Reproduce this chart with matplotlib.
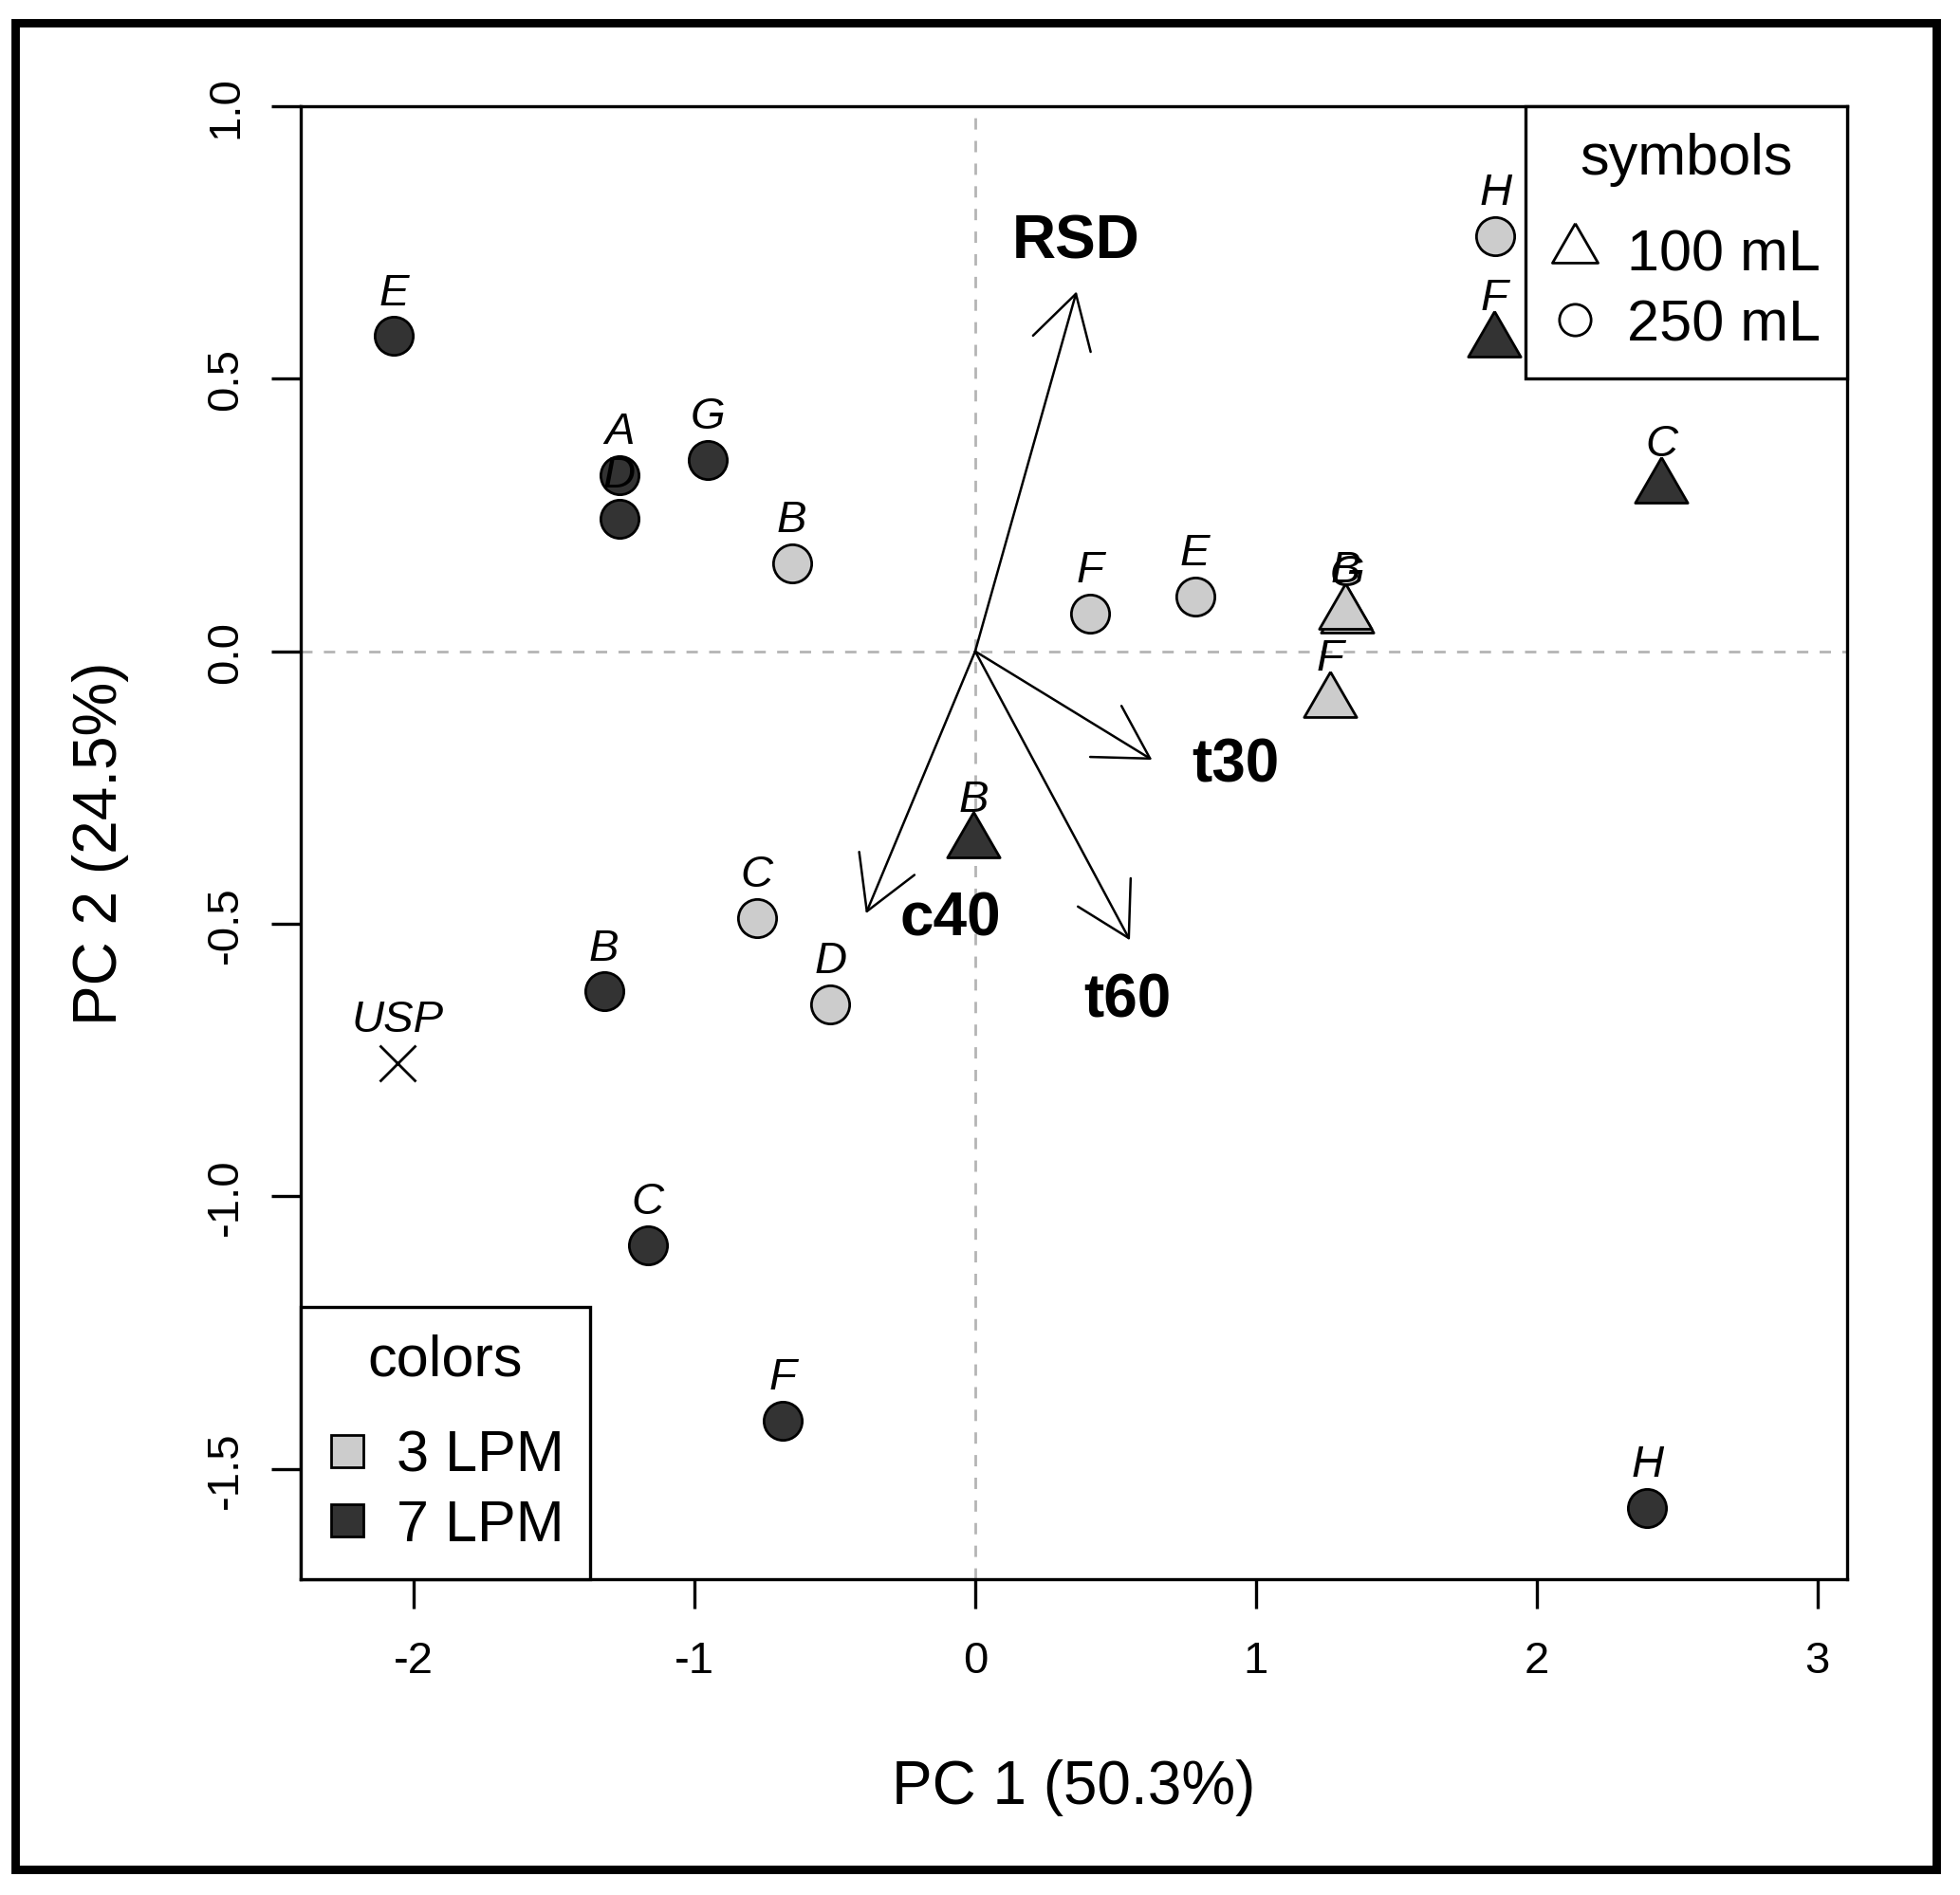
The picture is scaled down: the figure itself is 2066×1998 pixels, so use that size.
import matplotlib
matplotlib.use('Agg')
import matplotlib.pyplot as plt
from matplotlib.lines import Line2D
from matplotlib.patches import Rectangle

plt.rcParams['font.family'] = ['Liberation Sans', 'DejaVu Sans']

# ---------------- data ----------------
sample_labels = ['E', 'D', 'A', 'G', 'B', 'C', 'F', 'H',
                 'B', 'F', 'E', 'C', 'D', 'H',
                 'F', 'C', 'B',
                 'G', 'B', 'F']
pc1 = [-2.071, -1.268, -1.268, -0.952, -1.322, -1.166, -0.684, 2.393,
       -0.653, 0.408, 0.783, -0.778, -0.515, 1.853,
       1.849, 2.443, -0.006,
       1.324, 1.318, 1.265]
pc2 = [0.578, 0.243, 0.323, 0.351, -0.624, -1.089, -1.411, -1.571,
       0.161, 0.069, 0.101, -0.489, -0.647, 0.761,
       0.569, 0.300, -0.351,
       0.062, 0.069, -0.092]
flow = ['7 LPM'] * 8 + ['3 LPM'] * 6 + ['7 LPM'] * 3 + ['3 LPM'] * 3
volume = ['250 mL'] * 14 + ['100 mL'] * 6

usp_label = 'USP'
usp_pc1 = -2.058
usp_pc2 = -0.755

var_names = ['RSD', 't30', 't60', 'c40']
var_pc1 = [0.361, 0.630, 0.551, -0.389]
var_pc2 = [0.660, -0.199, -0.530, -0.481]
var_label_x = [0.359, 0.926, 0.542, -0.087]
var_label_y = [0.752, -0.209, -0.640, -0.491]

x_ticks = [-2, -1, 0, 1, 2, 3]
x_ticklabels = ['-2', '-1', '0', '1', '2', '3']
y_ticks = [-1.5, -1.0, -0.5, 0.0, 0.5, 1.0]
y_ticklabels = ['-1.5', '-1.0', '-0.5', '0.0', '0.5', '1.0']

x_title = 'PC 1 (50.3%)'
y_title = 'PC 2 (24.5%)'

flow_levels = ['3 LPM', '7 LPM']
volume_levels = ['100 mL', '250 mL']

# ---------------- styles ----------------
flow_colors = {'3 LPM': '#cccccc', '7 LPM': '#333333'}
tri = [(0, 1), (-0.866, -0.5), (0.866, -0.5), (0, 1)]
vol_markers = {'100 mL': tri, '250 mL': 'o'}
vol_sizes = {'100 mL': 23, '250 mL': 14.5}

fig = plt.figure(figsize=(10.33, 9.995), dpi=200)
ax = fig.add_axes([0.1534, 0.1666, 0.789, 0.7769])
ax.set_xlim(-2.402, 3.105)
ax.set_ylim(-1.702, 1.0)

ax.axhline(0, color='#b4b4b4', lw=1.0, dashes=(4.3, 4.3), zorder=1)
ax.axvline(0, color='#b4b4b4', lw=1.0, dashes=(4.3, 4.3), zorder=1)

# loading arrows
for name, vx, vy, lx, ly in zip(var_names, var_pc1, var_pc2, var_label_x, var_label_y):
    ax.annotate('', xy=(vx, vy), xytext=(0, 0),
                arrowprops=dict(arrowstyle='->,head_length=0.985,head_width=0.568',
                                mutation_scale=20, shrinkA=0, shrinkB=0,
                                lw=0.9, color='black'), zorder=2)
    ax.text(lx, ly, name, fontsize=23, fontweight='bold', ha='center', va='center', zorder=5)

# points
for x, y, f, v in zip(pc1, pc2, flow, volume):
    ax.plot([x], [y], ls='none', marker=vol_markers[v], ms=vol_sizes[v],
            mfc=flow_colors[f], mec='black', mew=1.0, zorder=3)

# point labels
for x, y, lab in zip(pc1, pc2, sample_labels):
    ax.annotate(lab, xy=(x, y), xytext=(0, 16.5), textcoords='offset points',
                ha='center', va='center', fontsize=17, fontstyle='italic', zorder=4)

ax.plot([usp_pc1], [usp_pc2], ls='none', marker='x', ms=14, mew=1.0, color='black', zorder=3)
ax.annotate(usp_label, xy=(usp_pc1, usp_pc2), xytext=(0, 16.5), textcoords='offset points',
            ha='center', va='center', fontsize=17, fontstyle='italic', zorder=4)

# axes styling
ax.set_xticks(x_ticks)
ax.set_xticklabels(x_ticklabels)
ax.set_yticks(y_ticks)
ax.set_yticklabels(y_ticklabels, rotation=90, va='center')
ax.tick_params(axis='both', direction='out', length=11, width=1.2, labelsize=17)
ax.tick_params(axis='x', pad=12)
ax.tick_params(axis='y', pad=9.5)
for s in ax.spines.values():
    s.set_linewidth(1.2)

fig.text(0.548, 0.057, x_title, fontsize=23, ha='center', va='center')
fig.text(0.0513, 0.555, y_title, fontsize=23, ha='center', va='center', rotation=90)

# legends
sym_handles = [Line2D([], [], ls='none', marker=tri, ms=20, mfc='none', mec='black', mew=1.0),
               Line2D([], [], ls='none', marker='o', ms=12, mfc='none', mec='black', mew=1.0)]
leg1 = ax.legend(sym_handles, volume_levels, title='symbols', loc='upper right',
                 borderaxespad=0, fontsize=22, title_fontsize=22, fancybox=False,
                 framealpha=1, edgecolor='black', borderpad=0.45, handlelength=0.8,
                 handletextpad=0.5, labelspacing=0.27)
leg1.get_frame().set_linewidth(1.2)
leg1._legend_box.sep = 16
ax.add_artist(leg1)

col_handles = [Line2D([], [], ls='none', marker='s', ms=12.5, mfc=flow_colors[f],
                      mec='black', mew=1.0) for f in flow_levels]
leg2 = ax.legend(col_handles, flow_levels, title='colors', loc='lower left',
                 borderaxespad=0, fontsize=22, title_fontsize=22, fancybox=False,
                 framealpha=1, edgecolor='black', borderpad=0.45, handlelength=0.7,
                 handletextpad=0.5, labelspacing=0.27)
leg2.get_frame().set_linewidth(1.2)
leg2._legend_box.sep = 16

# outer frame
fig.add_artist(Rectangle((0.00774, 0.01351), 0.98790 - 0.00774, 0.98749 - 0.01351,
                         transform=fig.transFigure, fill=False, lw=3.2, ec='black'))

fig.savefig('out.png', dpi=200, facecolor='white')
